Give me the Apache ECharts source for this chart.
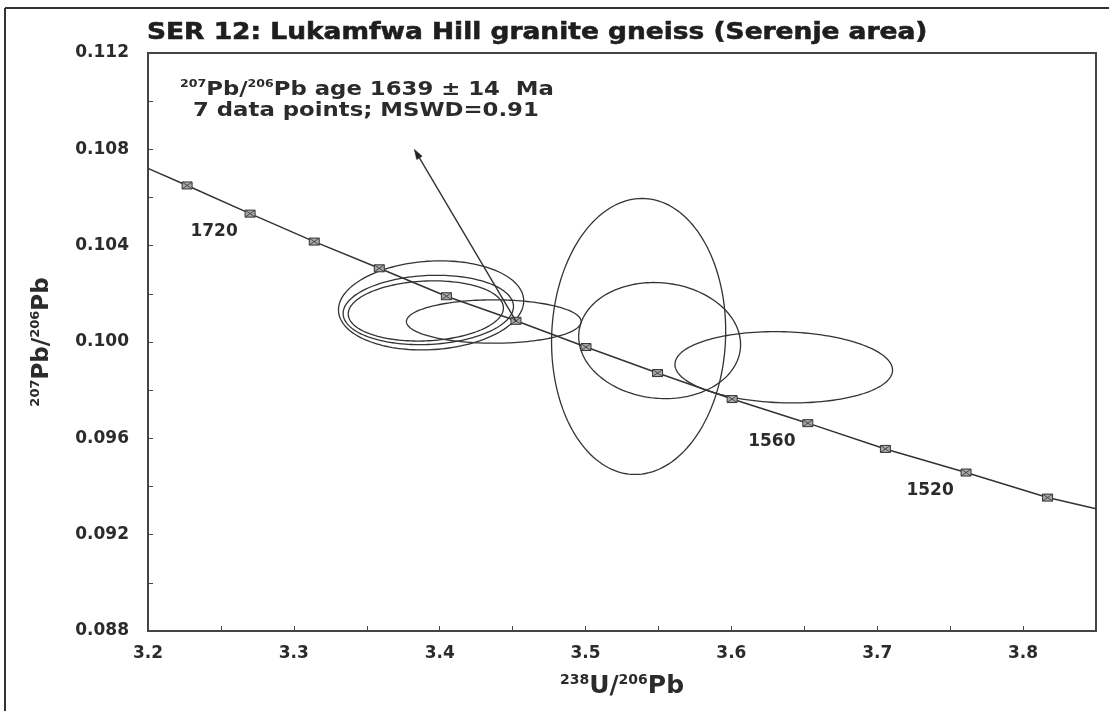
<!DOCTYPE html>
<html>
<head>
<meta charset="utf-8">
<script src="https://cdn.jsdelivr.net/npm/echarts@6/dist/echarts.min.js"></script>
<style>
  html, body { margin: 0; padding: 0; background: #fff; }
  #chart { width: 1109px; height: 711px; }
</style>
</head>
<body>
<div id="chart"></div>
<script>
// Concordia age ticks (Ma) and their 238U/206Pb, 207Pb/206Pb positions
const concordiaAges = [1740, 1720, 1700, 1680, 1660, 1640, 1620, 1600, 1580, 1560, 1540, 1520, 1500];
const concordiaX = [3.2268, 3.2700, 3.3140, 3.3586, 3.4046, 3.4523, 3.5003, 3.5494, 3.6005, 3.6524, 3.7056, 3.7609, 3.8168];
const concordiaY = [0.10650, 0.10533, 0.10417, 0.10306, 0.10190, 0.10088, 0.09979, 0.09871, 0.09763, 0.09663, 0.09556, 0.09458, 0.09354];
const labelledAges = [1720, 1560, 1520];
// concordia curve where it meets the plot edges
const concordiaStart = [3.2, 0.10721];
const concordiaEnd = [3.85, 0.09308];

// Analyses: ellipse centre, half-widths and error correlation
const ellipseX = [3.3941, 3.3922, 3.3905, 3.4371, 3.5364, 3.5508, 3.6359];
const ellipseY = [0.10152, 0.10133, 0.10129, 0.10085, 0.10023, 0.10006, 0.09895];
const ellipseHalfX = [0.0635, 0.0584, 0.0532, 0.0599, 0.0597, 0.0555, 0.0746];
const ellipseHalfY = [0.00185, 0.00144, 0.00125, 0.00090, 0.00573, 0.00241, 0.00148];
const ellipseRho = [0.10, 0.10, 0.10, 0.0, 0.04, -0.07, -0.08];

// Arrow pointing from the concordia intercept to the age annotation
const arrowFrom = [3.4525, 0.10085];
const arrowTo = [3.3826, 0.1080];

// Axis tick labels
const xTickLabels = [3.2, 3.3, 3.4, 3.5, 3.6, 3.7, 3.8];
const yTickLabels = [0.088, 0.092, 0.096, 0.100, 0.104, 0.108, 0.112];

const FONT = '"DejaVu Sans", "Liberation Sans", Arial, sans-serif';
const INK = '#2b2b2b';

function pickLabel(list, v, digits) {
  const hit = list.find(t => Math.abs(t - v) < 1e-6);
  return hit === undefined ? '' : hit.toFixed(digits);
}

const chart = echarts.init(document.getElementById('chart'), null, { renderer: 'canvas' });

const yNameRich = {
  sup: { fontFamily: FONT, fontWeight: 'bold', fontSize: 13, verticalAlign: 'top', color: INK, lineHeight: 26 },
  b: { fontFamily: FONT, fontWeight: 'bold', fontSize: 23, color: INK, lineHeight: 26 }
};
const xNameRich = {
  sup: { fontFamily: FONT, fontWeight: 'bold', fontSize: 14, verticalAlign: 'top', color: INK, lineHeight: 27 },
  b: { fontFamily: FONT, fontWeight: 'bold', fontSize: 25, color: INK, lineHeight: 27 }
};

const option = {
  backgroundColor: '#fff',
  animation: false,
  graphic: [
    { type: 'line', shape: { x1: 5, y1: 8, x2: 1109, y2: 8 }, style: { stroke: '#333', lineWidth: 2 }, silent: true },
    { type: 'line', shape: { x1: 5, y1: 8, x2: 5, y2: 711 }, style: { stroke: '#333', lineWidth: 2 }, silent: true },
    {
      type: 'text', x: 147, y: 22, scaleX: 1.15, silent: true,
      style: {
        text: 'SER 12: Lukamfwa Hill granite gneiss (Serenje area)',
        font: 'bold 23px ' + FONT, fill: '#1e1e1e', stroke: '#1e1e1e', lineWidth: 0.6,
        verticalAlign: 'top'
      }
    },
    {
      type: 'text', x: 180, y: 79, scaleX: 1.14, silent: true,
      style: {
        text: '{s|207}{m|Pb/}{s|206}{m|Pb age 1639 ± 14  Ma}',
        verticalAlign: 'top',
        rich: {
          s: { fontFamily: FONT, fontWeight: 'bold', fontSize: 11, verticalAlign: 'top', fill: INK, lineHeight: 22 },
          m: { fontFamily: FONT, fontWeight: 'bold', fontSize: 20, fill: INK, lineHeight: 22 }
        }
      }
    },
    {
      type: 'text', x: 193, y: 101, scaleX: 1.14, silent: true,
      style: {
        text: '7 data points; MSWD=0.91',
        font: 'bold 20px ' + FONT, fill: INK, verticalAlign: 'top'
      }
    }
  ],
  grid: {
    left: 148, right: 13, top: 53, bottom: 80,
    show: true, borderColor: '#444', borderWidth: 2, backgroundColor: '#fff'
  },
  xAxis: {
    type: 'value', min: 3.2, max: 3.85, interval: 0.05,
    axisLine: { show: true, onZero: false, lineStyle: { color: '#444', width: 2 } },
    axisTick: { show: true, inside: true, length: 5, lineStyle: { color: '#444', width: 1 } },
    splitLine: { show: false },
    axisLabel: {
      formatter: v => pickLabel(xTickLabels, v, 1),
      fontFamily: FONT, fontWeight: 'bold', fontSize: 17, color: INK, margin: 14
    },
    name: '{sup|238}{b|U/}{sup|206}{b|Pb}',
    nameLocation: 'middle', nameGap: 42,
    nameTextStyle: { rich: xNameRich }
  },
  yAxis: {
    type: 'value', min: 0.088, max: 0.112, interval: 0.002,
    axisLine: { show: true, onZero: false, lineStyle: { color: '#444', width: 2 } },
    axisTick: { show: true, inside: true, length: 5, lineStyle: { color: '#444', width: 1 } },
    splitLine: { show: false },
    axisLabel: {
      formatter: v => pickLabel(yTickLabels, v, 3),
      fontFamily: FONT, fontWeight: 'bold', fontSize: 17, color: INK, margin: 19
    },
    name: '{sup|207}{b|Pb/}{sup|206}{b|Pb}',
    nameLocation: 'middle', nameGap: 93, nameRotate: 90,
    nameTextStyle: { rich: yNameRich }
  },
  series: [
    {
      name: 'concordia',
      type: 'line',
      data: [concordiaStart].concat(concordiaX.map((x, i) => [x, concordiaY[i]]), [concordiaEnd]),
      showSymbol: false,
      silent: true,
      lineStyle: { color: '#333', width: 1.5 },
      z: 2
    },
    {
      name: 'analyses',
      type: 'custom',
      silent: true,
      clip: true,
      z: 3,
      data: ellipseX.map((x, i) => [x, ellipseY[i], ellipseHalfX[i], ellipseHalfY[i], ellipseRho[i]]),
      encode: { x: 0, y: 1 },
      renderItem: function (params, api) {
        const cx = api.value(0), cy = api.value(1);
        const sx = api.value(2), sy = api.value(3), r = api.value(4);
        const k = Math.sqrt(1 - r * r);
        const pts = [];
        const n = 160;
        for (let i = 0; i < n; i++) {
          const t = (i / n) * Math.PI * 2;
          pts.push(api.coord([cx + sx * Math.cos(t), cy + sy * (r * Math.cos(t) + k * Math.sin(t))]));
        }
        return {
          type: 'polygon',
          shape: { points: pts },
          style: { fill: 'none', stroke: '#333', lineWidth: 1.3 }
        };
      }
    },
    {
      name: 'age ticks',
      type: 'custom',
      silent: true,
      z: 4,
      data: concordiaX.map((x, i) => [x, concordiaY[i], concordiaAges[i]]),
      encode: { x: 0, y: 1 },
      renderItem: function (params, api) {
        const p = api.coord([api.value(0), api.value(1)]);
        const w = 10, h = 7;
        const x0 = p[0] - w / 2, y0 = p[1] - h / 2;
        const children = [
          { type: 'rect', shape: { x: x0, y: y0, width: w, height: h }, style: { fill: '#a8a8a8', stroke: '#333', lineWidth: 1 } },
          { type: 'line', shape: { x1: x0, y1: y0, x2: x0 + w, y2: y0 + h }, style: { stroke: '#333', lineWidth: 0.8 } },
          { type: 'line', shape: { x1: x0, y1: y0 + h, x2: x0 + w, y2: y0 }, style: { stroke: '#333', lineWidth: 0.8 } }
        ];
        const age = api.value(2);
        if (labelledAges.indexOf(age) >= 0) {
          children.push({
            type: 'text',
            x: p[0] - 36, y: p[1] + 18,
            style: {
              text: String(age), fill: INK, align: 'center', verticalAlign: 'middle',
              font: 'bold 17px ' + FONT
            }
          });
        }
        return { type: 'group', children: children };
      }
    },
    {
      name: 'intercept arrow',
      type: 'custom',
      silent: true,
      z: 5,
      data: [[arrowFrom[0], arrowFrom[1], arrowTo[0], arrowTo[1]]],
      encode: { x: [0, 2], y: [1, 3] },
      renderItem: function (params, api) {
        const a = api.coord([api.value(0), api.value(1)]);
        const b = api.coord([api.value(2), api.value(3)]);
        const dx = b[0] - a[0], dy = b[1] - a[1];
        const len = Math.sqrt(dx * dx + dy * dy);
        const ux = dx / len, uy = dy / len;
        const hl = 10, hw = 3.2;
        const bx = b[0] - ux * hl, by = b[1] - uy * hl;
        return {
          type: 'group',
          children: [
            { type: 'line', shape: { x1: a[0], y1: a[1], x2: bx, y2: by }, style: { stroke: '#333', lineWidth: 1.4 } },
            {
              type: 'polygon',
              shape: { points: [[b[0], b[1]], [bx - uy * hw, by + ux * hw], [bx + uy * hw, by - ux * hw]] },
              style: { fill: '#222', stroke: '#222', lineWidth: 0.5 }
            }
          ]
        };
      }
    }
  ]
};

chart.setOption(option);
</script>
</body>
</html>
